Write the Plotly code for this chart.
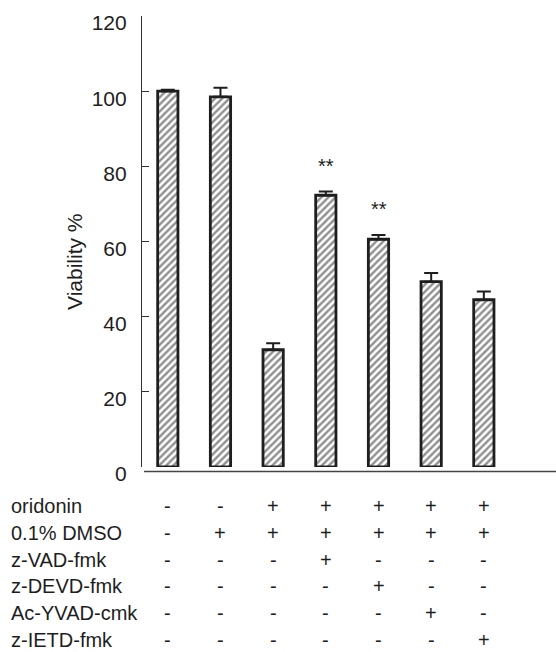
import plotly.graph_objects as go

# ---- data ----
categories = [0, 1, 2, 3, 4, 5, 6]
viability = [100.0, 98.5, 31.2, 72.3, 60.6, 49.3, 44.5]
errors = [0.4, 2.4, 1.7, 1.0, 1.1, 2.3, 2.2]
star_labels = ["", "", "", "**", "**", "", ""]
star_heights = [None, None, None, 80.2, 68.6, None, None]
y_ticks = [0, 20, 40, 60, 80, 100, 120]
row_names = ["oridonin", "0.1% DMSO", "z-VAD-fmk", "z-DEVD-fmk", "Ac-YVAD-cmk", "z-IETD-fmk"]
treatment = [
    ["-", "-", "+", "+", "+", "+", "+"],
    ["-", "+", "+", "+", "+", "+", "+"],
    ["-", "-", "-", "+", "-", "-", "-"],
    ["-", "-", "-", "-", "+", "-", "-"],
    ["-", "-", "-", "-", "-", "+", "-"],
    ["-", "-", "-", "-", "-", "-", "+"],
]
y_title = "Viability %"

# ---- layout geometry ----
W, H = 556, 652
ML, MR, MT, MB = 142, 0, 16, 185
PW, PH = W - ML - MR, H - MT - MB
FONT = "Liberation Sans, Arial, Helvetica, sans-serif"
INK = "#1e1e1e"


def px_to_paper_x(px):
    return (px - ML) / PW


def px_to_paper_y(py):
    return (H - MB - py) / PH


fig = go.Figure()
fig.add_trace(go.Bar(
    x=categories,
    y=viability,
    width=0.385,
    marker=dict(
        color="white",
        line=dict(color=INK, width=2.8),
        pattern=dict(shape="/", fgcolor="#222222", bgcolor="white", size=5, solidity=0.48),
    ),
    error_y=dict(
        type="data", symmetric=False, array=errors, arrayminus=[0] * len(errors),
        color=INK, thickness=2, width=7,
    ),
    showlegend=False,
))

annotations = []
# significance stars
for c, s, h in zip(categories, star_labels, star_heights):
    if s:
        annotations.append(dict(x=c, y=h, xref="x", yref="y", text=s, showarrow=False,
                                font=dict(family=FONT, size=20, color=INK),
                                xanchor="center", yanchor="middle"))

# y-axis title
annotations.append(dict(x=px_to_paper_x(74), y=px_to_paper_y(262), xref="paper", yref="paper",
                        text=y_title, textangle=-90, showarrow=False,
                        font=dict(family=FONT, size=21, color=INK),
                        xanchor="center", yanchor="middle"))

# treatment table
row0, drow = 506.0, 26.8
for i, (name, row) in enumerate(zip(row_names, treatment)):
    yy = px_to_paper_y(row0 + i * drow)
    annotations.append(dict(x=px_to_paper_x(10), y=yy, xref="paper", yref="paper",
                            text=name, showarrow=False,
                            font=dict(family=FONT, size=20, color=INK),
                            xanchor="left", yanchor="middle", borderpad=0))
    for c, sym in zip(categories, row):
        annotations.append(dict(x=c, y=yy, xref="x", yref="paper",
                                text=sym, showarrow=False,
                                font=dict(family=FONT, size=20, color=INK),
                                xanchor="center", yanchor="middle", borderpad=0))

shapes = [
    dict(type="line", xref="paper", yref="paper",
         x0=px_to_paper_x(144), x1=1.0,
         y0=px_to_paper_y(471.5), y1=px_to_paper_y(471.5),
         line=dict(color="#444444", width=1.6)),
]

fig.update_layout(
    width=W, height=H,
    margin=dict(l=ML, r=MR, t=MT, b=MB, pad=0),
    paper_bgcolor="white", plot_bgcolor="white",
    font=dict(family=FONT, color=INK),
    xaxis=dict(range=[-0.49, 7.37], showticklabels=False, ticks="", showline=False,
               showgrid=False, zeroline=False, fixedrange=True),
    yaxis=dict(range=[0, 120], tickvals=y_ticks, ticktext=[str(v) for v in y_ticks],
               ticks="inside", ticklen=7, tickwidth=1.2, tickcolor="#333333",
               showline=True, linecolor="#333333", linewidth=1.2,
               showgrid=False, zeroline=False, fixedrange=True,
               tickfont=dict(family=FONT, size=21, color=INK),
               ticklabelshift=7, ticklabelstandoff=10),
    annotations=annotations,
    shapes=shapes,
    bargap=0.6,
)

fig.write_html(
    "out.html",
    config={"displayModeBar": False},
    post_script="document.body.style.margin='0';document.body.style.padding='0';",
)
